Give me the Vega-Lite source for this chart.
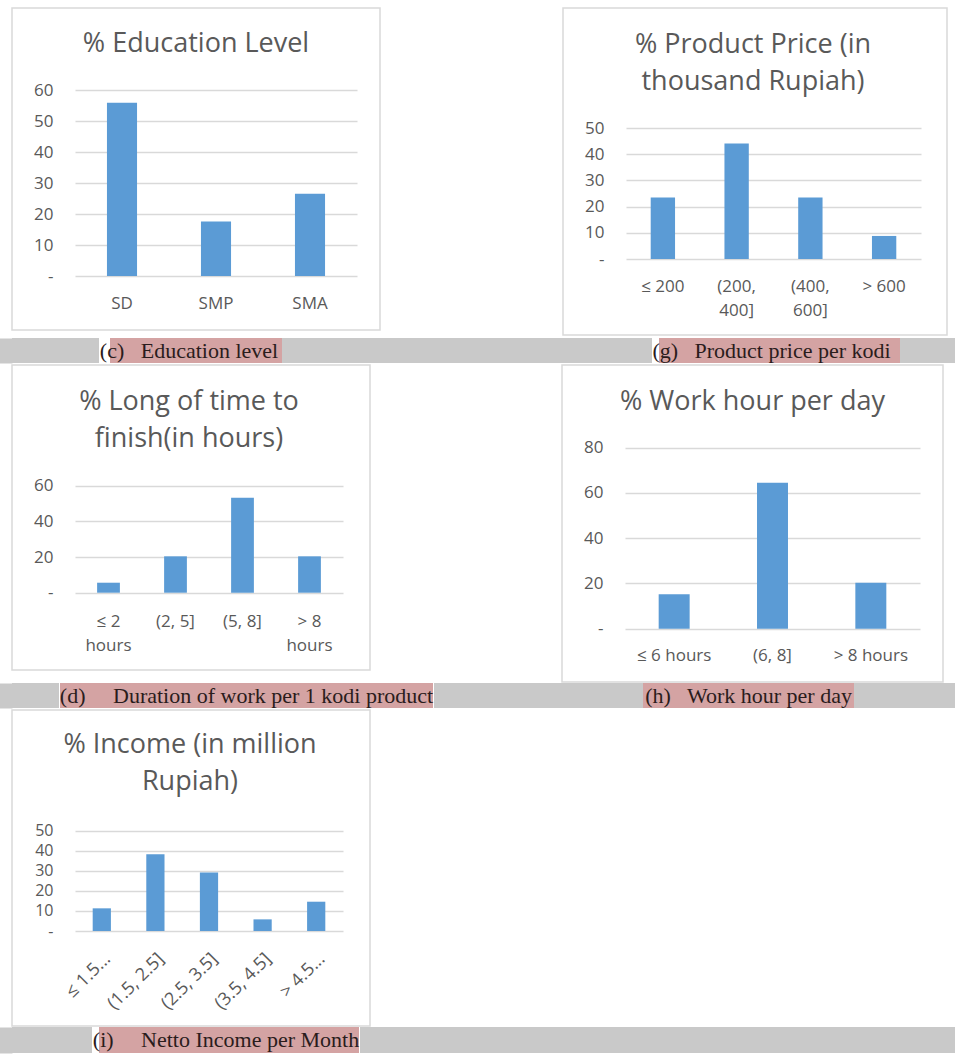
{
  "$schema": "https://vega.github.io/schema/vega-lite/v6.json",
  "padding": {"left": 0, "top": 7, "right": 0, "bottom": 0},
  "background": "white",
  "spacing": 1,
  "vconcat": [
    {
      "spacing": 2,
      "vconcat": [
        {
          "spacing": 181,
          "hconcat": [
            {
              "width": 368, "height": 322,
              "title": {"text": "% Education Level", "offset": -50.4},
              "data": {"values": [
                {"level": "SD", "pct": 55.9},
                {"level": "SMP", "pct": 17.6},
                {"level": "SMA", "pct": 26.5}
              ]},
              "mark": {"type": "bar", "color": "#5b9bd5"},
              "encoding": {
                "x": {"field": "level", "type": "nominal", "sort": null,
                  "scale": {"range": [63, 345], "paddingInner": 0.68, "paddingOuter": 0.34},
                  "axis": {"title": null, "labelAngle": 0, "labelPadding": 19.5, "offset": -54}},
                "y": {"field": "pct", "type": "quantitative",
                  "scale": {"domain": [0, 60], "nice": false, "range": [268, 82]},
                  "axis": {"title": null, "values": [0, 10, 20, 30, 40, 50, 60], "offset": -63,
                    "labelPadding": 22, "labelExpr": "datum.value === 0 ? '-' : datum.label"}}
              }
            },
            {
              "width": 384, "height": 327,
              "title": {"text": ["% Product Price (in", "thousand Rupiah)"], "offset": -87.7, "dx": -2},
              "data": {"values": [
                {"price": "≤ 200", "pct": 23.5},
                {"price": "(200, 400]", "pct": 44.1},
                {"price": "(400, 600]", "pct": 23.5},
                {"price": "> 600", "pct": 8.8}
              ]},
              "mark": {"type": "bar", "color": "#5b9bd5"},
              "encoding": {
                "x": {"field": "price", "type": "nominal", "sort": null,
                  "scale": {"range": [63, 358], "paddingInner": 0.67, "paddingOuter": 0.335},
                  "axis": {"title": null, "labelAngle": 0, "labelPadding": 19.5, "labelLineHeight": 24, "offset": -76,
                    "labelExpr": "datum.label == '(200, 400]' ? ['(200,', '400]'] : datum.label == '(400, 600]' ? ['(400,', '600]'] : datum.label"}},
                "y": {"field": "pct", "type": "quantitative",
                  "scale": {"domain": [0, 50], "nice": false, "range": [251, 120]},
                  "axis": {"title": null, "values": [0, 10, 20, 30, 40, 50], "offset": -63,
                    "labelPadding": 22, "labelExpr": "datum.value === 0 ? '-' : datum.label"}}
              }
            }
          ]
        },
        {
          "spacing": 0,
          "hconcat": [
            {"width": 87, "height": 25, "view": {"fill": "#c9c9c9", "stroke": null},
             "data": {"values": [{"caption": ""}]}, "mark": {"type": "text"},
             "encoding": {"text": {"field": "caption"},
               "y": {"field": "caption", "type": "nominal", "axis": {"title": null, "labels": false, "ticks": false, "grid": false,
                 "domain": true, "domainColor": "#c9c9c9", "domainWidth": 24, "offset": 12}}}},
            {"width": 172, "height": 25, "view": {"fill": "#d4a3a3", "stroke": null},
             "data": {"values": [{"caption": "(c)\u00a0\u00a0 Education level"}]},
             "mark": {"type": "text", "font": "Liberation Serif", "fontSize": 22, "color": "#2a1c1c", "dx": -7},
             "encoding": {"text": {"field": "caption"}}},
            {"width": 370, "height": 25, "view": {"fill": "#c9c9c9", "stroke": null},
             "data": {"values": [{"caption": ""}]}, "mark": {"type": "text"}, "encoding": {"text": {"field": "caption"}}},
            {"width": 241, "height": 25, "view": {"fill": "#d4a3a3", "stroke": null},
             "data": {"values": [{"caption": "(g)\u00a0\u00a0 Product price per kodi"}]},
             "mark": {"type": "text", "font": "Liberation Serif", "fontSize": 22, "color": "#2a1c1c", "dx": -8},
             "encoding": {"text": {"field": "caption"}}},
            {"width": 73, "height": 25, "view": {"fill": "#c9c9c9", "stroke": null},
             "data": {"values": [{"caption": ""}]}, "mark": {"type": "text"}, "encoding": {"text": {"field": "caption"}}}
          ]
        }
      ]
    },
    {
      "spacing": 0,
      "vconcat": [
        {
          "spacing": 190,
          "hconcat": [
            {
              "width": 358, "height": 305,
              "title": {"text": ["% Long of time to", "finish(in hours)"], "offset": -88.4, "dx": -2},
              "data": {"values": [
                {"dur": "≤ 2 hours", "pct": 5.6},
                {"dur": "(2, 5]", "pct": 20.4},
                {"dur": "(5, 8]", "pct": 53.2},
                {"dur": "> 8 hours", "pct": 20.4}
              ]},
              "mark": {"type": "bar", "color": "#5b9bd5"},
              "encoding": {
                "x": {"field": "dur", "type": "nominal", "sort": null,
                  "scale": {"range": [63, 331], "paddingInner": 0.66, "paddingOuter": 0.33},
                  "axis": {"title": null, "labelAngle": 0, "labelPadding": 20.5, "labelLineHeight": 24, "offset": -77.3,
                    "labelExpr": "datum.label == '≤ 2 hours' ? ['≤ 2', 'hours'] : datum.label == '> 8 hours' ? ['> 8', 'hours'] : datum.label"}},
                "y": {"field": "pct", "type": "quantitative",
                  "scale": {"domain": [0, 60], "nice": false, "range": [227.7, 120.7]},
                  "axis": {"title": null, "values": [0, 20, 40, 60], "offset": -63,
                    "labelPadding": 22, "labelExpr": "datum.value === 0 ? '-' : datum.label"}}
              }
            },
            {
              "width": 381, "height": 317,
              "title": {"text": "% Work hour per day", "offset": -50.7},
              "data": {"values": [
                {"hour": "≤ 6 hours", "pct": 15.2},
                {"hour": "(6, 8]", "pct": 64.5},
                {"hour": "> 8 hours", "pct": 20.3}
              ]},
              "mark": {"type": "bar", "color": "#5b9bd5"},
              "encoding": {
                "x": {"field": "hour", "type": "nominal", "sort": null,
                  "scale": {"range": [63, 358], "paddingInner": 0.685, "paddingOuter": 0.3425},
                  "axis": {"title": null, "labelAngle": 0, "labelPadding": 18.5, "offset": -53.3}},
                "y": {"field": "pct", "type": "quantitative",
                  "scale": {"domain": [0, 80], "nice": false, "range": [263.7, 82.7]},
                  "axis": {"title": null, "values": [0, 20, 40, 60, 80], "offset": -63,
                    "labelPadding": 22, "labelExpr": "datum.value === 0 ? '-' : datum.label"}}
              }
            }
          ]
        },
        {
          "spacing": 0,
          "hconcat": [
            {"width": 47, "height": 25, "view": {"fill": "#c9c9c9", "stroke": null},
             "data": {"values": [{"caption": ""}]}, "mark": {"type": "text"},
             "encoding": {"text": {"field": "caption"},
               "y": {"field": "caption", "type": "nominal", "axis": {"title": null, "labels": false, "ticks": false, "grid": false,
                 "domain": true, "domainColor": "#c9c9c9", "domainWidth": 24, "offset": 12}}}},
            {"width": 373, "height": 25, "view": {"fill": "#d4a3a3", "stroke": null},
             "data": {"values": [{"caption": "(d)\u00a0\u00a0\u00a0\u00a0 Duration of work per 1 kodi product"}]},
             "mark": {"type": "text", "font": "Liberation Serif", "fontSize": 22, "color": "#2a1c1c"},
             "encoding": {"text": {"field": "caption"}}},
            {"width": 209, "height": 25, "view": {"fill": "#c9c9c9", "stroke": null},
             "data": {"values": [{"caption": ""}]}, "mark": {"type": "text"}, "encoding": {"text": {"field": "caption"}}},
            {"width": 211, "height": 25, "view": {"fill": "#d4a3a3", "stroke": null},
             "data": {"values": [{"caption": "(h)\u00a0\u00a0 Work hour per day"}]},
             "mark": {"type": "text", "font": "Liberation Serif", "fontSize": 22, "color": "#2a1c1c"},
             "encoding": {"text": {"field": "caption"}}},
            {"width": 103, "height": 25, "view": {"fill": "#c9c9c9", "stroke": null},
             "data": {"values": [{"caption": ""}]}, "mark": {"type": "text"}, "encoding": {"text": {"field": "caption"}}}
          ]
        }
      ]
    },
    {
      "spacing": 0,
      "vconcat": [
        {
          "width": 358, "height": 316,
          "title": {"text": ["% Income (in million", "Rupiah)"], "offset": -86.4, "dx": -1},
          "data": {"values": [
            {"inc": "≤ 1.5 million", "pct": 11.3},
            {"inc": "(1.5, 2.5]", "pct": 38.2},
            {"inc": "(2.5, 3.5]", "pct": 29.2},
            {"inc": "(3.5, 4.5]", "pct": 5.8},
            {"inc": "> 4.5 million", "pct": 14.6}
          ]},
          "mark": {"type": "bar", "color": "#5b9bd5"},
          "encoding": {
            "x": {"field": "inc", "type": "nominal", "sort": null,
              "scale": {"range": [63, 331], "paddingInner": 0.66, "paddingOuter": 0.33},
              "axis": {"title": null, "labelAngle": -45, "labelAlign": "right", "labelBaseline": "middle",
                "labelFontSize": 18, "labelPadding": 25, "labelOffset": 6, "offset": -95,
                "labelExpr": "length(datum.label) > 10 ? slice(datum.label, 0, 5) + '...' : datum.label"}},
            "y": {"field": "pct", "type": "quantitative",
              "scale": {"domain": [0, 50], "nice": false, "range": [221, 120.7]},
              "axis": {"title": null, "values": [0, 10, 20, 30, 40, 50], "offset": -63,
                "labelFontSize": 16, "labelPadding": 22, "labelExpr": "datum.value === 0 ? '-' : datum.label"}}
          }
        },
        {
          "spacing": 0,
          "hconcat": [
            {"width": 80, "height": 26, "view": {"fill": "#c9c9c9", "stroke": null},
             "data": {"values": [{"caption": ""}]}, "mark": {"type": "text"},
             "encoding": {"text": {"field": "caption"},
               "y": {"field": "caption", "type": "nominal", "axis": {"title": null, "labels": false, "ticks": false, "grid": false,
                 "domain": true, "domainColor": "#c9c9c9", "domainWidth": 24, "offset": 12}}}},
            {"width": 260, "height": 26, "view": {"fill": "#d4a3a3", "stroke": null},
             "data": {"values": [{"caption": "(i)\u00a0\u00a0\u00a0\u00a0 Netto Income per Month"}]},
             "mark": {"type": "text", "font": "Liberation Serif", "fontSize": 22, "color": "#2a1c1c", "dx": -3},
             "encoding": {"text": {"field": "caption"}}},
            {"width": 603, "height": 26, "view": {"fill": "#c9c9c9", "stroke": null},
             "data": {"values": [{"caption": ""}]}, "mark": {"type": "text"}, "encoding": {"text": {"field": "caption"}}}
          ]
        },
        {
          "width": 490, "height": 2, "view": {"fill": "#1a1a1a", "stroke": null},
          "data": {"values": [{"caption": ""}]}, "mark": {"type": "text"},
          "encoding": {"text": {"field": "caption"},
            "y": {"field": "caption", "type": "nominal", "axis": {"title": null, "labels": false, "ticks": false, "grid": false,
              "domain": true, "domainColor": "#1a1a1a", "domainWidth": 24, "offset": 12}}}
        }
      ]
    }
  ],
  "config": {
    "view": {"stroke": "#d9d9d9", "strokeWidth": 1.5},
    "axis": {"domain": false, "ticks": false, "labelFont": "Open Sans", "labelFontSize": 17,
      "labelColor": "#595959", "gridColor": "#d9d9d9", "gridWidth": 1.5},
    "axisX": {"grid": false},
    "axisY": {"grid": true},
    "title": {"font": "Open Sans", "fontSize": 27, "fontWeight": "normal", "color": "#595959",
      "lineHeight": 37, "frame": "group", "anchor": "middle"}
  }
}
